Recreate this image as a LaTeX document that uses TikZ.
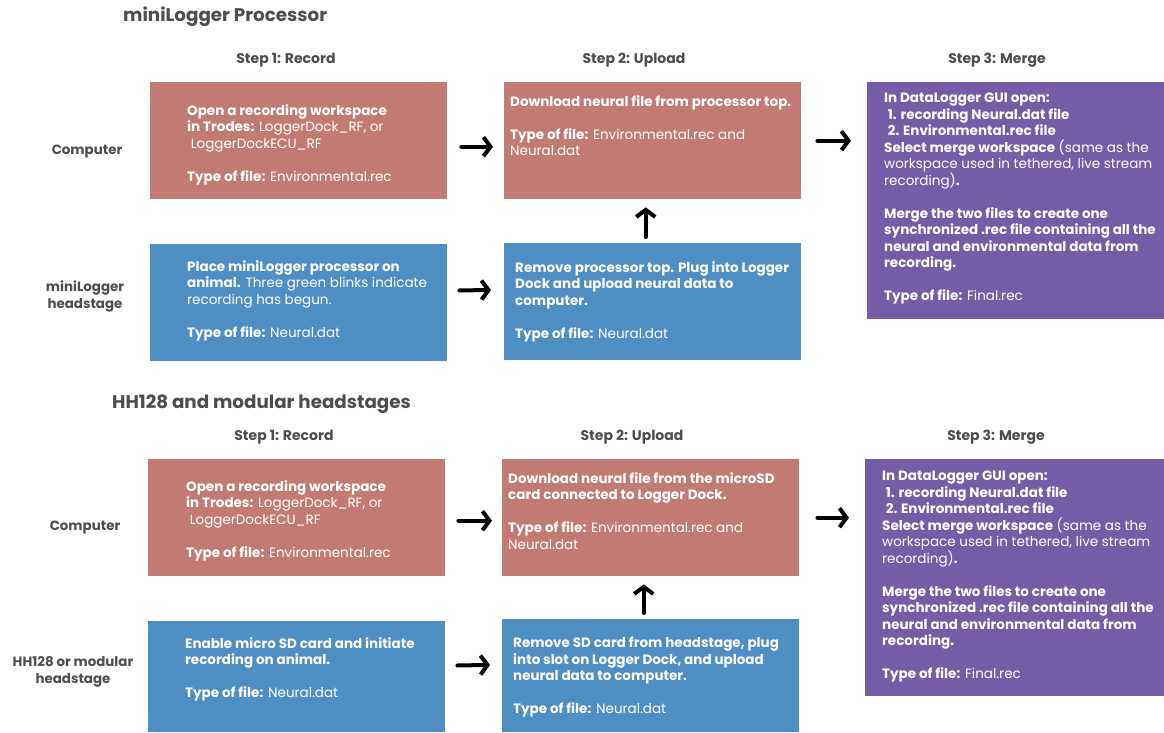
\documentclass[tikz,border=0pt]{standalone}
\usepackage{fontspec}
\setmainfont{Poppins}
\usetikzlibrary{arrows.meta}
\definecolor{salmon}{RGB}{194,122,116}
\definecolor{bluebox}{RGB}{79,142,195}
\definecolor{purplebox}{RGB}{118,92,167}
\definecolor{graytxt}{RGB}{77,77,77}
\tikzset{
  box/.style={draw=none, inner sep=0pt, anchor=north west, minimum width=297pt, minimum height=117pt},
  txt/.style={text=white, font=\fontsize{13.5}{16.5}\selectfont, align=left, anchor=north west, inner sep=0pt},
  hdr/.style={text=graytxt, font=\bfseries\fontsize{14}{16}\selectfont, inner sep=0pt},
  rowlbl/.style={text=graytxt, font=\bfseries\fontsize{13.4}{17}\selectfont, align=center, inner sep=0pt},
  ttl/.style={text=graytxt, font=\bfseries\fontsize{18.3}{20}\selectfont, anchor=west, inner sep=0pt},
  arr/.style={line width=4pt, -{Straight Barb[length=7pt,width=19pt]}, line cap=round, line join=round}
}
\begin{document}
\begin{tikzpicture}[x=1pt,y=-1pt]
\useasboundingbox (0,0) rectangle (1164,732);
% ---------- top section ----------
\node[ttl] (t1) at (123,17) {miniLogger Processor};
\node[hdr] (s11) at (286,60) {Step 1: Record};
\node[hdr] (s12) at (634,60) {Step 2: Upload};
\node[hdr] (s13) at (997,60) {Step 3: Merge};
\node[rowlbl] (l11) at (87,152) {Computer};
\node[rowlbl] (l12) at (85,296) {miniLogger\\headstage};

\node[box, fill=salmon] (a1) at (150,82) {};
\node[box, fill=salmon] (a2) at (504,82) {};
\node[box, fill=purplebox, minimum height=237pt] (a3) at (867,82) {};
\node[box, fill=bluebox] (b1) at (150,244) {};
\node[box, fill=bluebox] (b2) at (504,243) {};

\node[txt] (a1t) at (187,104) {{\bfseries Open a recording workspace}\\
{\bfseries in Trodes:} LoggerDock\_RF, or\\
\ LoggerDockECU\_RF\\[16.5pt]
{\bfseries Type of file:} Environmental.rec};
\node[txt] (a2t) at (510,95) {{\bfseries Download neural file from processor top.}\\[16.5pt]
{\bfseries Type of file:} Environmental.rec and\\
Neural.dat};
\node[txt] (a3t) at (884,93) {{\bfseries In DataLogger GUI open:}\\
\ {\bfseries 1. recording Neural.dat file}\\
\ {\bfseries 2. Environmental.rec file}\\
{\bfseries Select merge workspace} (same as the\\
workspace used in tethered, live stream\\
recording){\bfseries .}\\[16.5pt]
{\bfseries Merge the two files to create one}\\
{\bfseries synchronized .rec file containing all the}\\
{\bfseries neural and environmental data from}\\
{\bfseries recording.}\\[16.5pt]
{\bfseries Type of file:} Final.rec};
\node[txt] (b1t) at (187,260) {{\bfseries Place miniLogger processor on}\\
{\bfseries animal.} Three green blinks indicate\\
recording has begun.\\[16.5pt]
{\bfseries Type of file:} Neural.dat};
\node[txt] (b2t) at (515,261) {{\bfseries Remove processor top. Plug into Logger}\\
{\bfseries Dock and upload neural data to}\\
{\bfseries computer.}\\[16.5pt]
{\bfseries Type of file:} Neural.dat};

\draw[arr, shorten <=14pt, shorten >=11pt] ([yshift=-6pt]a1.east) -- ([yshift=-6pt]a2.west);
\draw[arr, shorten <=16pt, shorten >=16pt] (a2.east) -- (a2.east -| a3.west);
\draw[arr, shorten <=12pt, shorten >=13pt] ([yshift=12pt]b1.east) -- ([yshift=12pt]b2.west);
\draw[arr, shorten <=6pt, shorten >=8pt] ([xshift=-7pt]b2.north) -- ([xshift=-7pt]a2.south);

% ---------- bottom section ----------
\node[ttl] (t2) at (112,404) {HH128 and modular headstages};
\node[hdr] (s21) at (284,437) {Step 1: Record};
\node[hdr] (s22) at (632,437) {Step 2: Upload};
\node[hdr] (s23) at (996,437) {Step 3: Merge};
\node[rowlbl] (l21) at (85,528) {Computer};
\node[rowlbl] (l22) at (73,671.5) {HH128 or modular\\headstage};

\node[box, fill=salmon] (c1) at (148,459) {};
\node[box, fill=salmon] (c2) at (502,459) {};
\node[box, fill=purplebox, minimum height=237pt, minimum width=299pt] (c3) at (865,459) {};
\node[box, fill=bluebox, minimum height=111pt] (d1) at (148,621) {};
\node[box, fill=bluebox, minimum height=113pt] (d2) at (502,619) {};

\node[txt] (c1t) at (186,480) {{\bfseries Open a recording workspace}\\
{\bfseries in Trodes:} LoggerDock\_RF, or\\
\ LoggerDockECU\_RF\\[16.5pt]
{\bfseries Type of file:} Environmental.rec};
\node[txt] (c2t) at (508,472) {{\bfseries Download neural file from the microSD}\\
{\bfseries card connected to Logger Dock.}\\[16.5pt]
{\bfseries Type of file:} Environmental.rec and\\
Neural.dat};
\node[txt] (c3t) at (882,471) {{\bfseries In DataLogger GUI open:}\\
\ {\bfseries 1. recording Neural.dat file}\\
\ {\bfseries 2. Environmental.rec file}\\
{\bfseries Select merge workspace} (same as the\\
workspace used in tethered, live stream\\
recording){\bfseries .}\\[16.5pt]
{\bfseries Merge the two files to create one}\\
{\bfseries synchronized .rec file containing all the}\\
{\bfseries neural and environmental data from}\\
{\bfseries recording.}\\[16.5pt]
{\bfseries Type of file:} Final.rec};
\node[txt] (d1t) at (185,637) {{\bfseries Enable micro SD card and initiate}\\
{\bfseries recording on animal.}\\[16.5pt]
{\bfseries Type of file:} Neural.dat};
\node[txt] (d2t) at (513,637) {{\bfseries Remove SD card from headstage, plug}\\
{\bfseries into slot on Logger Dock, and upload}\\
{\bfseries neural data to computer.}\\[16.5pt]
{\bfseries Type of file:} Neural.dat};

\draw[arr, shorten <=13pt, shorten >=10pt] ([yshift=-3pt]c1.east) -- ([yshift=-3pt]c2.west);
\draw[arr, shorten <=18pt, shorten >=16pt] (c2.east) -- (c2.east -| c3.west);
\draw[arr, shorten <=12pt, shorten >=12pt] ([yshift=11pt]d1.east) -- ([yshift=11pt]d2.west);
\draw[arr, shorten <=6pt, shorten >=8pt] ([xshift=-7pt]d2.north) -- ([xshift=-7pt]c2.south);
\end{tikzpicture}
\end{document}
